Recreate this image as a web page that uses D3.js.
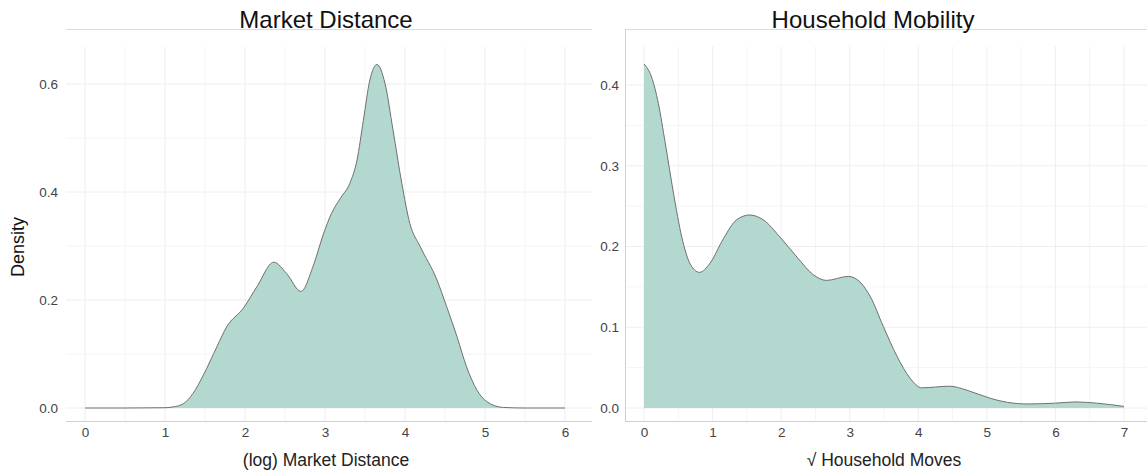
<!DOCTYPE html>
<html>
<head>
<meta charset="utf-8">
<script src="https://cdn.jsdelivr.net/npm/d3@7"></script>
<style>
  body { margin: 0; background: #fff; }
  text { font-family: "Liberation Sans", Arial, sans-serif; }
</style>
</head>
<body>
<div id="chart"></div>
<script>

////////////////////
////////DATA////////
////////////////////

/* market distance density */
var mdX = [0, 0.5, 1.0, 1.1, 1.23, 1.35, 1.48, 1.65, 1.77, 1.98, 2.15, 2.36, 2.52, 2.70, 2.85, 2.98, 3.08, 3.20, 3.31, 3.40, 3.48, 3.56, 3.65, 3.75, 3.85, 3.96, 4.06, 4.19, 4.40, 4.52, 4.65, 4.77, 4.90, 5.02, 5.23, 5.5, 6.0];
var mdY = [0, 0, 0.0005, 0.002, 0.008, 0.027, 0.061, 0.114, 0.150, 0.185, 0.225, 0.270, 0.249, 0.216, 0.262, 0.322, 0.360, 0.390, 0.416, 0.459, 0.533, 0.607, 0.636, 0.601, 0.515, 0.416, 0.342, 0.299, 0.237, 0.188, 0.132, 0.076, 0.033, 0.012, 0.001, 0, 0];

/* household mobility density */
var hmX = [0, 0.11, 0.21, 0.31, 0.43, 0.55, 0.67, 0.81, 0.96, 1.16, 1.35, 1.54, 1.74, 1.98, 2.23, 2.47, 2.66, 2.98, 3.15, 3.30, 3.49, 3.69, 3.88, 4.05, 4.46, 4.71, 5.05, 5.3, 5.6, 6.0, 6.3, 6.6, 7.0];
var hmY = [0.426, 0.410, 0.377, 0.328, 0.266, 0.212, 0.179, 0.168, 0.179, 0.210, 0.233, 0.239, 0.233, 0.212, 0.187, 0.165, 0.158, 0.163, 0.156, 0.138, 0.101, 0.064, 0.037, 0.025, 0.027, 0.022, 0.012, 0.007, 0.005, 0.006, 0.0075, 0.006, 0.002];

var mdXTicks = [0, 1, 2, 3, 4, 5, 6];
var mdYTicks = [0, 0.2, 0.4, 0.6];
var hmXTicks = [0, 1, 2, 3, 4, 5, 6, 7];
var hmYTicks = [0, 0.1, 0.2, 0.3, 0.4];

var fillColor = '#b3d8cf';

var svg = d3.select('#chart').append('svg')
  .attr('width', 1147)
  .attr('height', 471);

/* one density panel */
function drawPanel(cfg) {
  var x = d3.scaleLinear().domain(cfg.xDomain).range(cfg.xRange);
  var y = d3.scaleLinear().domain(cfg.yDomain).range(cfg.yRange);
  var g = svg.append('g');

  // minor + major grid, every half step
  var xStep = 0.5;
  var vx = d3.range(cfg.xDomain[0], cfg.xDomain[1] + 0.001, xStep);
  g.selectAll('.vgrid').data(vx).enter()
    .append('line')
    .attr('x1', function(d){ return x(d); })
    .attr('x2', function(d){ return x(d); })
    .attr('y1', cfg.gridTop).attr('y2', cfg.bottom)
    .style('stroke', function(d, i){ return i % 2 ? '#f4f4f4' : '#eeeeee'; })
    .style('stroke-width', 1);

  var hy = d3.range(0, cfg.yMax + 0.0001, cfg.yTicks[1] / 2);
  g.selectAll('.hgrid').data(hy).enter()
    .append('line')
    .attr('x1', cfg.left).attr('x2', cfg.right)
    .attr('y1', function(d){ return y(d); })
    .attr('y2', function(d){ return y(d); })
    .style('stroke', function(d, i){ return i % 2 ? '#f4f4f4' : '#eeeeee'; })
    .style('stroke-width', 1);

  // border lines
  g.append('line').attr('x1', cfg.left).attr('x2', cfg.right)
    .attr('y1', 29.5).attr('y2', 29.5).style('stroke', '#dcdcdc');
  g.append('line').attr('x1', cfg.left).attr('x2', cfg.right)
    .attr('y1', cfg.bottom + 0.5).attr('y2', cfg.bottom + 0.5).style('stroke', '#cfcfcf');
  if (cfg.leftLine) {
    g.append('line').attr('x1', cfg.left + 0.5).attr('x2', cfg.left + 0.5)
      .attr('y1', 29.5).attr('y2', cfg.bottom + 0.5).style('stroke', '#cfcfcf');
  }

  var pts = cfg.xs.map(function(d, i){ return [d, cfg.ys[i]]; });

  var area = d3.area()
    .x(function(d){ return x(d[0]); })
    .y0(y(0))
    .y1(function(d){ return y(d[1]); })
    .curve(d3.curveMonotoneX);

  var line = d3.line()
    .x(function(d){ return x(d[0]); })
    .y(function(d){ return y(d[1]); })
    .curve(d3.curveMonotoneX);

  g.append('path').datum(pts)
    .attr('d', area)
    .style('fill', fillColor);

  g.append('path').datum(pts)
    .attr('d', line)
    .style('fill', 'none')
    .style('stroke', '#707070')
    .style('stroke-width', 1);

  // axes (text only, like ggplot minimal)
  var xAxis = d3.axisBottom(x).tickValues(cfg.xTicks).tickSize(0).tickPadding(0)
    .tickFormat(d3.format('d'));
  var ax = g.append('g').attr('transform', 'translate(0,' + 437 + ')').call(xAxis);
  ax.select('.domain').remove();
  ax.selectAll('text').attr('dy', 0).attr('y', 0)
    .style('font-size', '13.5px').style('fill', '#444')
    .style('font-family', '"Liberation Sans", Arial, sans-serif');

  var yAxis = d3.axisLeft(y).tickValues(cfg.yTicks).tickSize(0).tickPadding(0)
    .tickFormat(d3.format('.1f'));
  var ay = g.append('g').attr('transform', 'translate(' + cfg.yLabelX + ',0)').call(yAxis);
  ay.select('.domain').remove();
  ay.selectAll('text')
    .style('font-size', '13.5px').style('fill', '#444')
    .style('font-family', '"Liberation Sans", Arial, sans-serif');

  // titles
  g.append('text').attr('x', cfg.titleX).attr('y', 28)
    .attr('text-anchor', 'middle')
    .style('font-size', '24px').style('fill', '#111')
    .text(cfg.title);

  g.append('text').attr('x', cfg.xTitleX).attr('y', 466)
    .attr('text-anchor', 'middle')
    .style('font-size', '17.5px').style('fill', '#222')
    .text(cfg.xTitle);
}

drawPanel({
  xs: mdX, ys: mdY,
  xDomain: [0, 6], xRange: [85, 565],
  yDomain: [0, 0.6], yRange: [408, 84], yMax: 0.65,
  xTicks: mdXTicks, yTicks: mdYTicks,
  left: 66, right: 592, bottom: 421, gridTop: 46.5,
  leftLine: false, yLabelX: 58,
  title: 'Market Distance', titleX: 326,
  xTitle: '(log) Market Distance', xTitleX: 326
});

drawPanel({
  xs: hmX, ys: hmY,
  xDomain: [0, 7], xRange: [644, 1124],
  yDomain: [0, 0.4], yRange: [408, 85], yMax: 0.44,
  xTicks: hmXTicks, yTicks: hmYTicks,
  left: 625, right: 1147, bottom: 421, gridTop: 46.5,
  leftLine: true, yLabelX: 619,
  title: 'Household Mobility', titleX: 873,
  xTitle: '\u221A Household Moves', xTitleX: 884
});

/* shared y title */
svg.append('text')
  .attr('transform', 'translate(24,247) rotate(-90)')
  .attr('text-anchor', 'middle')
  .style('font-size', '18px').style('fill', '#111')
  .text('Density');

</script>
</body>
</html>
